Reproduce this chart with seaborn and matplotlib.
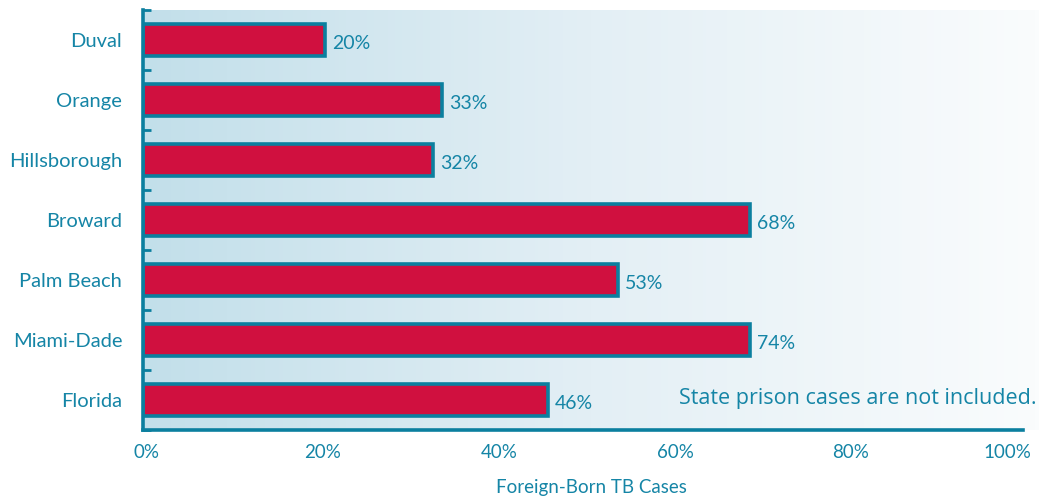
import numpy as np
import matplotlib
matplotlib.use("Agg")
import matplotlib.pyplot as plt
import matplotlib.transforms as mtransforms
from matplotlib.colors import LinearSegmentedColormap
import seaborn as sns

counties = ["Duval", "Orange", "Hillsborough", "Broward", "Palm Beach", "Miami-Dade", "Florida"]
bar_values = [20.7, 34, 33, 69, 54, 69, 46]
bar_labels = ["20%", "33%", "32%", "68%", "53%", "74%", "46%"]
xticks = [0, 20, 40, 60, 80, 100]

teal = "#1585a6"
edge = "#0b7f9f"
red = "#d0103f"

sns.set_theme(style="white")
plt.rcParams["font.family"] = ["Lato", "DejaVu Sans"]

fig = plt.figure(figsize=(10.39, 4.96), dpi=100)
ax = fig.add_axes([143 / 1039, 66 / 496, 896 / 1039, 420 / 496])
xmax = 896 / 8.8

# background gradient, light blue on the left fading to white
cmap = LinearSegmentedColormap.from_list("bg", ["#c2dfea", "#e3eff5", "#fafcfd"])
grad = np.linspace(0, 1, 256).reshape(1, -1)
ax.imshow(grad, cmap=cmap, aspect="auto", extent=[0, xmax, 6.5, -0.5], zorder=0)

sns.barplot(x=bar_values, y=counties, orient="h", color=red, edgecolor=edge,
            linewidth=2.6, width=0.53, saturation=1, ax=ax, zorder=2)

for i, (v, lab) in enumerate(zip(bar_values, bar_labels)):
    ax.text(v + 0.75, i + 0.05, lab, va="center", ha="left", color=teal, fontsize=14)

ax.set_xlim(0, xmax)
ax.set_ylim(6.5, -0.5)
ax.set_xticks(xticks)
ax.set_xticklabels([f"{t}%" for t in xticks], color=teal, fontsize=13.5)
ax.tick_params(axis="x", direction="in", length=6, width=2, color=edge, pad=10)
# nudge tick labels a little right, last one pulled in so it fits
for lab in ax.get_xticklabels()[:-1]:
    lab.set_transform(lab.get_transform() + mtransforms.ScaledTranslation(4 / 100, 0, fig.dpi_scale_trans))
last = ax.get_xticklabels()[-1]
last.set_transform(last.get_transform() + mtransforms.ScaledTranslation(-16 / 100, 0, fig.dpi_scale_trans))

ax.set_yticks(np.arange(len(counties)))
ax.set_yticklabels(counties, color=teal, fontsize=14.5)
ax.set_yticks(np.arange(-0.5, len(counties) + 0.5, 1), minor=True)
ax.tick_params(axis="y", which="major", length=0, pad=15)
ax.tick_params(axis="y", which="minor", direction="in", length=6, width=2, color=edge, left=True)

for s in ["top", "right"]:
    ax.spines[s].set_visible(False)
for s in ["left", "bottom"]:
    ax.spines[s].set_color(edge)
    ax.spines[s].set_linewidth(2.6)
ax.spines["bottom"].set_bounds(0, 100)

ax.set_xlabel("Foreign-Born TB Cases", color=teal, fontsize=13.5, labelpad=13)
ax.set_ylabel("")

ax.text(101.5, 5.97, "State prison cases are not included.", ha="right", va="center",
        color=teal, fontsize=15.5, family=["Open Sans", "DejaVu Sans"], zorder=3)

fig.savefig("out.png", dpi=100)
